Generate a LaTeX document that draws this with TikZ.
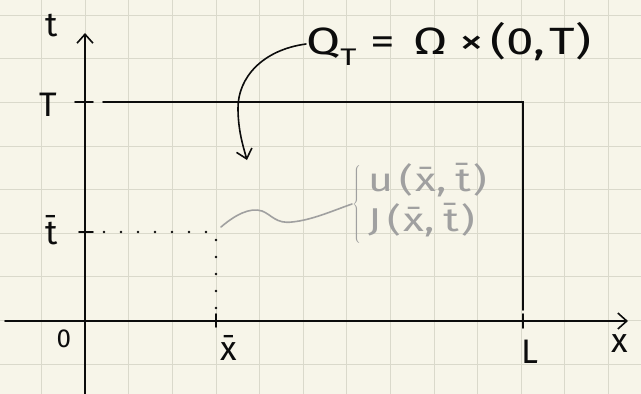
\documentclass[tikz,border=0pt]{standalone}
\usepackage{fontspec}
\setmainfont{Fira Sans}
\newfontfamily\handwide[FakeStretch=1.3]{Fira Sans}
\usetikzlibrary{arrows.meta}
\definecolor{paper}{RGB}{247,245,233}
\definecolor{gridc}{RGB}{218,217,203}
\definecolor{ink}{RGB}{12,12,12}
\definecolor{pencil}{RGB}{160,160,160}
\tikzset{
  axis/.style={draw=ink, line width=1.7pt, line cap=round},
  edge/.style={draw=ink, line width=1.6pt, line cap=round},
  tick/.style={draw=ink, line width=1.6pt, line cap=round},
  dots/.style={draw=ink, line width=2.8pt, line cap=round, dash pattern=on 0pt off 17pt},
  lbl/.style={inner sep=0pt, text=ink, font=\fontsize{34}{36}\selectfont},
  small/.style={inner sep=0pt, text=ink, font=\fontsize{26}{28}\selectfont},
  note/.style={inner sep=0pt, text=pencil, font=\handwide\fontsize{33}{40}\selectfont},
  tip/.style={-{Straight Barb[length=9pt,width=16pt,line width=1.6pt]}},
}
\begin{document}
\begin{tikzpicture}[x=1pt,y=-1pt]
\useasboundingbox (0,0) rectangle (641,394);
\fill[paper] (0,0) rectangle (641,394);
% grid paper
\foreach \i in {0,...,13} \draw[gridc, line width=1pt] ({41.7+43.6*\i},0) -- ({41.7+43.6*\i},394);
\foreach \j in {0,...,8} \draw[gridc, line width=1pt] (0,{15.3+43.6*\j}) -- (641,{15.3+43.6*\j});
% key points
\coordinate (O) at (85,321);
\coordinate (xs) at (5,321);
\coordinate (xe) at (628,321);
\coordinate (ys) at (85,394);
\coordinate (ye) at (85,33);
\coordinate (TL) at (103,102);
\coordinate (TR) at (523,102);
\coordinate (BR) at (523,310);
\coordinate (Lt) at (523,314);
\coordinate (Lb) at (523,328);
\coordinate (Tt1) at (75,102);
\coordinate (Tt2) at (93,102);
\coordinate (tt1) at (79,232);
\coordinate (tt2) at (93,232);
\coordinate (d1) at (104,232);
\coordinate (d2) at (210,232);
\coordinate (d3) at (216,240);
\coordinate (d4) at (216,313);
\coordinate (xt1) at (216,314);
\coordinate (xt2) at (216,327);
\coordinate (P) at (221,227);
\coordinate (arrEnd) at (247,160);
% axes
\draw[axis, tip] (xs) -- (xe);
\draw[axis, tip] (ys) -- (ye);
% domain
\draw[edge] (TL) -- (TR) -- (BR);
\draw[tick] (Lt) -- (Lb);
\draw[tick] (Tt1) -- (Tt2);
\draw[tick] (tt1) -- (tt2);
\draw[tick] (xt1) -- (xt2);
\draw[dots] (d1) -- (d2);
\draw[dots] (d3) -- (d4);
% labels
\node[lbl] (tlab) at (52,26) {t};
\node[lbl] (Tlab) at (48,105) {T};
\node[lbl] (tbar) at (52,230) {t̄};
\node[small] (zero) at (64,339) {0};
\node[lbl] (xbar) at (229,348) {x̄};
\node[lbl] (Llab) at (530,352) {L};
\node[lbl] (xlab) at (620,344) {x};
\node[lbl, anchor=west, font=\handwide\fontsize{38}{42}\selectfont] (title) at (306,44) {Q\raisebox{-0.3em}{\fontsize{24}{26}\selectfont T}\hspace{14pt}=\hspace{18pt}Ω\hspace{12pt}×\hspace{6pt}(0,\hspace{5pt}T)};
% curved arrow
\draw[edge, tip] (title.west) .. controls (262,50) and (238,78) .. (238,108) .. controls (238,130) and (243,146) .. (arrEnd);
% gray note
\node[note, anchor=west] (brace) at (352,204) {$\left\{\vphantom{\rule{0pt}{46pt}}\right.$};
\node[note, anchor=west] (note) at (368,203) {\begin{tabular}{@{}l@{}}u\hspace{6pt}(\hspace{2pt}x̄,\hspace{9pt}t̄\hspace{2pt})\\J\hspace{6pt}(\hspace{2pt}x̄,\hspace{9pt}t̄\hspace{2pt})\end{tabular}};
\draw[pencil, line width=1.6pt, line cap=round] (P) .. controls (235,215) and (250,207) .. (262,211) .. controls (272,215) and (276,224) .. (292,222) .. controls (312,220) and (332,211) .. (brace.west);
\end{tikzpicture}
\end{document}
